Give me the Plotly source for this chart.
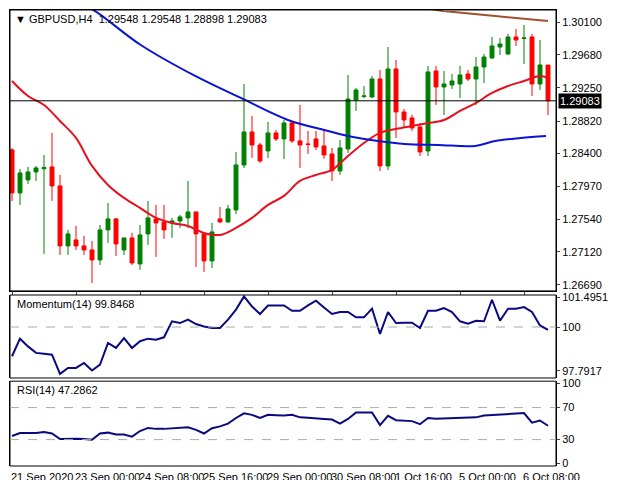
import plotly.graph_objects as go

idx = list(range(68))
opens = [1.28444,1.27885,1.28054,1.28158,1.28200,1.28223,1.27976,1.27196,1.27274,1.27196,1.27144,1.27014,1.27404,1.27547,1.27144,1.27300,1.26962,1.27352,1.27547,1.27508,1.27495,1.27521,1.27560,1.27638,1.27352,1.27001,1.27547,1.27508,1.27664,1.28249,1.28678,1.28509,1.28431,1.28665,1.28587,1.28795,1.28561,1.28522,1.28587,1.28496,1.28392,1.28171,1.28457,1.29094,1.29140,1.29133,1.29367,1.28236,1.29497,1.28938,1.28860,1.28743,1.28431,1.29471,1.29263,1.29289,1.29302,1.29432,1.29367,1.29523,1.29640,1.29783,1.29692,1.29913,1.29893,1.29913,1.29302,1.29548]
highs = [1.28470,1.28197,1.28223,1.28236,1.28379,1.28665,1.28119,1.27404,1.27456,1.27326,1.27261,1.27469,1.27755,1.27560,1.27300,1.27365,1.27469,1.27781,1.27729,1.27729,1.27560,1.27599,1.28041,1.27638,1.27378,1.27495,1.27703,1.27729,1.28418,1.29302,1.28886,1.28535,1.28808,1.28704,1.28834,1.28808,1.29029,1.28691,1.28691,1.28704,1.28470,1.28574,1.29419,1.29250,1.29276,1.29406,1.29484,1.29783,1.29614,1.28977,1.28899,1.28795,1.29536,1.29536,1.29471,1.29432,1.29536,1.29484,1.29653,1.29692,1.29913,1.29900,1.29952,1.30017,1.30069,1.29952,1.29874,1.29548]
lows = [1.27781,1.27729,1.28002,1.28041,1.27092,1.27781,1.27079,1.27079,1.27144,1.27079,1.26715,1.26949,1.27235,1.27066,1.27079,1.26949,1.26884,1.27209,1.27053,1.27287,1.27300,1.27430,1.27430,1.26923,1.26858,1.26910,1.27495,1.27495,1.27612,1.28210,1.28340,1.28275,1.28340,1.28561,1.28327,1.28535,1.28210,1.28392,1.28444,1.28327,1.28041,1.28119,1.28405,1.28951,1.29120,1.29120,1.28171,1.28184,1.28600,1.28730,1.28691,1.28366,1.28366,1.29029,1.28899,1.29237,1.29120,1.29341,1.29029,1.29315,1.29627,1.29679,1.29679,1.29796,1.29562,1.29146,1.29224,1.28898]
closes = [1.27885,1.28145,1.28158,1.28210,1.28215,1.27976,1.27196,1.27352,1.27196,1.27144,1.27014,1.27404,1.27547,1.27222,1.27300,1.26975,1.27339,1.27560,1.27495,1.27404,1.27521,1.27573,1.27638,1.27352,1.27001,1.27378,1.27508,1.27677,1.28249,1.28678,1.28509,1.28301,1.28665,1.28587,1.28795,1.28561,1.28509,1.28516,1.28483,1.28379,1.28171,1.28470,1.29107,1.29224,1.29146,1.29367,1.28236,1.29497,1.28938,1.28834,1.28730,1.28418,1.29458,1.29263,1.29302,1.29341,1.29419,1.29367,1.29523,1.29653,1.29796,1.29822,1.29913,1.29874,1.29900,1.29302,1.29549,1.29083]

red_ma_x = [0,2,4,6,8,10,12,14,16,18,20,22,24,26,28,30,32,34,36,38,40,42,44,46,48,50,52,54,56,58,60,62,64,66,67]
red_ma_y = [1.29341,1.29146,1.29029,1.28821,1.28600,1.28236,1.27989,1.27820,1.27690,1.27560,1.27495,1.27456,1.27365,1.27339,1.27430,1.27560,1.27729,1.27846,1.28041,1.28119,1.28184,1.28366,1.28535,1.28665,1.28717,1.28756,1.28795,1.28834,1.28951,1.29055,1.29185,1.29276,1.29341,1.29406,1.29380]
blue_ma_x = [7,9.75,16.1,22.9,28.6,34.5,39.5,42,45.75,49.1,53.25,57.9,60.4,63.6,66.75]
blue_ma_y = [1.30394,1.30290,1.29809,1.29406,1.29120,1.28834,1.28691,1.28626,1.28561,1.28522,1.28509,1.28496,1.28561,1.28600,1.28626]
brown_ma_x = [50,53.9,60.4,67]
brown_ma_y = [1.30316,1.30251,1.30186,1.30121]

momentum = [98.52,99.41,99.02,98.69,98.65,98.60,97.63,97.93,97.93,98.18,97.80,98.10,99.19,98.94,99.44,98.94,99.28,99.41,99.36,99.48,100.29,100.20,100.37,100.15,100.03,99.95,99.95,100.37,100.88,101.55,101.04,100.66,101.09,101.09,101.09,100.82,100.82,101.09,101.33,100.99,100.66,100.76,100.76,100.49,100.49,100.93,99.65,100.76,100.20,100.22,100.22,99.95,100.82,100.82,100.96,100.76,100.29,100.17,100.32,100.29,101.38,100.32,100.93,100.93,101.01,100.76,100.08,99.85]
rsi = [34.5,38.3,38.3,38.3,39.5,37.6,30.6,31.0,31.0,30.6,29.8,37.6,38.7,36.4,36.4,33.7,40.7,44.6,43.4,43.4,44.2,45.3,45.3,42.2,37.6,44.2,46.5,50.0,57.0,62.8,60.9,57.0,60.9,60.5,60.1,60.9,57.8,57.4,57.0,55.8,55.1,50.0,55.8,64.0,64.0,64.0,48.1,59.7,54.3,53.9,53.1,49.2,57.0,56.2,56.6,57.0,57.0,57.0,57.8,60.1,60.9,60.9,61.7,63.2,63.2,51.2,53.9,47.29]

price_ticks = [1.30100,1.29680,1.29250,1.28820,1.28400,1.27970,1.27540,1.27120,1.26690]
mom_ticks = [101.4951,100,97.7917]
rsi_ticks = [100,70,30,0]
date_pos = [0,8,16,24,32,40,48,56,64]
date_labels = ["21 Sep 2020","23 Sep 00:00","24 Sep 08:00","25 Sep 16:00","29 Sep 00:00",
               "30 Sep 08:00","1 Oct 16:00","5 Oct 00:00","6 Oct 08:00"]
last_price = 1.29083

FONT = "Liberation Sans"
fig = go.Figure()
fig.add_trace(go.Candlestick(x=idx, open=opens, high=highs, low=lows, close=closes,
    increasing=dict(line=dict(color="#008000", width=1), fillcolor="#008000"),
    decreasing=dict(line=dict(color="#ff0000", width=1), fillcolor="#ff0000"),
    whiskerwidth=0, xaxis="x", yaxis="y", showlegend=False))
fig.add_trace(go.Scatter(x=red_ma_x, y=red_ma_y, mode="lines", line=dict(color="#e8101e", width=2, shape="spline"), yaxis="y", showlegend=False))
fig.add_trace(go.Scatter(x=blue_ma_x, y=blue_ma_y, mode="lines", line=dict(color="#0a14d2", width=2, shape="spline"), yaxis="y", showlegend=False))
fig.add_trace(go.Scatter(x=brown_ma_x, y=brown_ma_y, mode="lines", line=dict(color="#a0522d", width=2), yaxis="y", showlegend=False))
fig.add_trace(go.Scatter(x=idx, y=momentum, mode="lines", line=dict(color="#0a0a80", width=2), yaxis="y2", showlegend=False))
fig.add_trace(go.Scatter(x=idx, y=rsi, mode="lines", line=dict(color="#0a0a80", width=2), yaxis="y3", showlegend=False))

ax_common = dict(side="right", showgrid=False, zeroline=False, ticks="outside", ticklen=3,
                 automargin=False,
                 tickfont=dict(family=FONT, size=11, color="black"), linecolor="black", showline=True, mirror=True)
fig.update_layout(
    width=640, height=480, paper_bgcolor="white", plot_bgcolor="white",
    margin=dict(l=2, r=92, t=2, b=22),
    xaxis=dict(range=[-0.25, 68], showgrid=False, zeroline=False, rangeslider=dict(visible=False),
               tickvals=date_pos, ticktext=[""]*len(date_pos), ticks="outside", ticklen=3,
               automargin=False, showline=True, linecolor="black", mirror=True),
    yaxis=dict(domain=[0.384, 1], range=[1.26611, 1.30264], tickvals=price_ticks,
               ticktext=[f"{v:.5f}" for v in price_ticks], **ax_common),
    yaxis2=dict(domain=[0.193, 0.375], range=[97.42, 101.62], tickvals=mom_ticks,
                ticktext=["101.4951","100","97.7917"], **ax_common),
    yaxis3=dict(domain=[0, 0.186], range=[-3, 103], tickvals=rsi_ticks,
                ticktext=["100","70","30","0"], **ax_common),
)
for d0, d1 in [(0.384, 1), (0.193, 0.375), (0, 0.186)]:
    fig.add_shape(type="rect", xref="paper", yref="paper", x0=0, x1=1, y0=d0, y1=d1,
                  line=dict(color="black", width=1))
fig.add_shape(type="line", xref="paper", yref="y", x0=0, x1=1, y0=last_price, y1=last_price,
              line=dict(color="black", width=1))
fig.add_shape(type="line", xref="paper", yref="y2", x0=0, x1=1, y0=100, y1=100,
              line=dict(color="#aaaaaa", width=1, dash="dash"))
for v in [70, 30]:
    fig.add_shape(type="line", xref="paper", yref="y3", x0=0, x1=1, y0=v, y1=v,
                  line=dict(color="#aaaaaa", width=1, dash="dash"))
fig.add_annotation(xref="paper", yref="y", x=1.0, y=last_price, xanchor="left", xshift=2,
                   text=f"{last_price:.5f}", showarrow=False, bgcolor="black",
                   font=dict(family=FONT, size=11, color="white"), borderpad=1)
fig.add_annotation(xref="paper", yref="paper", x=0.005, y=0.997, xanchor="left", yanchor="top",
                   text="▼ GBPUSD,H4  1.29548 1.29548 1.28898 1.29083", showarrow=False,
                   font=dict(family=FONT, size=11, color="black"))
fig.add_annotation(xref="paper", yref="paper", x=0.01, y=0.373, xanchor="left", yanchor="top",
                   text="Momentum(14) 99.8468", showarrow=False,
                   font=dict(family=FONT, size=11, color="black"))
fig.add_annotation(xref="paper", yref="paper", x=0.01, y=0.184, xanchor="left", yanchor="top",
                   text="RSI(14) 47.2862", showarrow=False,
                   font=dict(family=FONT, size=11, color="black"))
for p, t in zip(date_pos, date_labels):
    fig.add_annotation(xref="x", yref="paper", x=p, y=0, xanchor="left", yanchor="top",
                       xshift=-3, yshift=-3, text=t, showarrow=False,
                       font=dict(family=FONT, size=11, color="black"))
fig.write_html("out.html")
